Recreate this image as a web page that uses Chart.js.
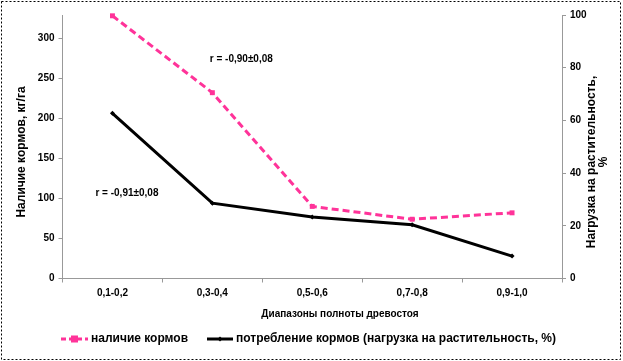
<!DOCTYPE html>
<html>
<head>
<meta charset="utf-8">
<script src="https://cdn.jsdelivr.net/npm/chart.js@4"></script>
<style>
  html, body { margin: 0; padding: 0; background: #fff; }
  #wrap { width: 623px; height: 361px; }
</style>
</head>
<body>
<div id="wrap"><canvas id="myChart" width="623" height="361"></canvas></div>
<script>
const categories = ['0,1-0,2', '0,3-0,4', '0,5-0,6', '0,7-0,8', '0,9-1,0']
const feedStock = [328, 232, 90, 74, 82]        // наличие кормов, кг/га
const feedUse = [62.7, 28.6, 23.3, 20.4, 8.5]   // нагрузка на растительность, %
const leftTicks = [0, 50, 100, 150, 200, 250, 300]
const rightTicks = [0, 20, 40, 60, 80, 100]

const FONT = 'Liberation Sans, Arial, sans-serif'
const PINK = '#ff3399'

// r-labels: category index + value on left axis
const notes = [
  { text: 'r = -0,90±0,08', cat: 1.29, val: 274 },
  { text: 'r = -0,91±0,08', cat: 0.145, val: 107 }
]

function drawMarker(c, style, x, y, r, color) {
  c.save()
  c.fillStyle = color
  if (style === 'rect') {
    c.fillRect(x - r, y - r, r * 2, r * 2)
  } else {
    c.beginPath()
    c.moveTo(x, y - r); c.lineTo(x + r, y); c.lineTo(x, y + r); c.lineTo(x - r, y)
    c.closePath()
    c.fill()
  }
  c.restore()
}

const decor = {
  id: 'decor',
  beforeDraw(chart) {
    const c = chart.ctx
    c.save()
    c.fillStyle = '#fff'
    c.fillRect(0, 0, chart.width, chart.height)
    c.restore()
  },
  afterDraw(chart) {
    const c = chart.ctx
    const xs = chart.scales.x, ys = chart.scales.y
    c.save()
    // dotted frame
    c.strokeStyle = '#000'
    c.lineWidth = 1
    c.setLineDash([2, 2])
    c.strokeRect(1.5, 1.5, chart.width - 4, chart.height - 3)
    c.setLineDash([])

    c.fillStyle = '#000'
    c.textAlign = 'center'
    c.textBaseline = 'middle'

    // r annotations
    c.font = 'bold 10px ' + FONT
    for (const n of notes) {
      c.fillText(n.text, xs.getPixelForValue(n.cat), ys.getPixelForValue(n.val))
    }

    // x axis title
    c.fillText('Диапазоны полноты древостоя', 340, 314)

    // y titles (read bottom to top)
    c.font = 'bold 12px ' + FONT
    c.save()
    c.translate(22, 152)
    c.rotate(-Math.PI / 2)
    c.fillText('Наличие кормов, кг/га', 0, 0)
    c.restore()
    c.save()
    c.translate(592, 162)
    c.rotate(-Math.PI / 2)
    c.fillText('Нагрузка на растительность,', 0, 0)
    c.fillText('%', 0, 12)
    c.restore()

    // legend
    const ly = 339
    c.lineWidth = 3
    c.strokeStyle = PINK
    c.setLineDash([5, 3])
    c.beginPath(); c.moveTo(61, ly); c.lineTo(88, ly); c.stroke()
    c.setLineDash([])
    drawMarker(c, 'rect', 74.5, ly, 3.5, PINK)
    c.strokeStyle = '#000'
    c.beginPath(); c.moveTo(207, ly); c.lineTo(233, ly); c.stroke()
    drawMarker(c, 'rectRot', 220, ly, 2.5, '#000')
    c.textAlign = 'left'
    c.font = 'bold 12px ' + FONT
    c.fillText(chart.data.datasets[0].label, 91, ly)
    c.fillText(chart.data.datasets[1].label, 236, ly)
    c.restore()
  }
}

const tickFont = { family: FONT, size: 10, weight: 'bold' }

const ctx = document.getElementById('myChart')
new Chart(ctx, {
  type: 'line',
  data: {
    labels: categories,
    datasets: [{
      label: 'наличие кормов',
      data: feedStock,
      yAxisID: 'y',
      borderColor: PINK,
      backgroundColor: PINK,
      borderWidth: 3,
      borderDash: [7, 4],
      pointStyle: 'rect',
      pointRadius: 3.5,
      pointBorderWidth: 0,
      tension: 0,
      clip: false
    }, {
      label: 'потребление кормов (нагрузка на растительность, %)',
      data: feedUse,
      yAxisID: 'y1',
      borderColor: '#000',
      backgroundColor: '#000',
      borderWidth: 3,
      pointStyle: 'rectRot',
      pointRadius: 2.5,
      pointBorderWidth: 0,
      tension: 0,
      clip: false
    }]
  },
  options: {
    responsive: false,
    animation: false,
    layout: { padding: { top: 15, left: 0, right: 0, bottom: 62 } },
    plugins: {
      legend: { display: false },
      tooltip: { enabled: false }
    },
    scales: {
      x: {
        offset: true,
        afterFit(s) { s.height = 20.5 },
        grid: { drawOnChartArea: false, offset: true, tickLength: 4, color: '#999' },
        border: { color: '#999' },
        ticks: { color: '#000', padding: 5, font: tickFont }
      },
      y: {
        position: 'left',
        min: 0,
        max: 329,
        afterFit(s) { s.width = 62.5 },
        afterBuildTicks(s) { s.ticks = leftTicks.map(v => ({ value: v })) },
        grid: { drawOnChartArea: false, tickLength: 4, color: '#999' },
        border: { color: '#999' },
        ticks: { color: '#000', padding: 4, font: tickFont }
      },
      y1: {
        position: 'right',
        min: 0,
        max: 100,
        afterFit(s) { s.width = 61 },
        afterBuildTicks(s) { s.ticks = rightTicks.map(v => ({ value: v })) },
        grid: { drawOnChartArea: false, tickLength: 4, color: '#999' },
        border: { color: '#999' },
        ticks: { color: '#000', padding: 4, font: tickFont }
      }
    }
  },
  plugins: [decor]
})
</script>
</body>
</html>
